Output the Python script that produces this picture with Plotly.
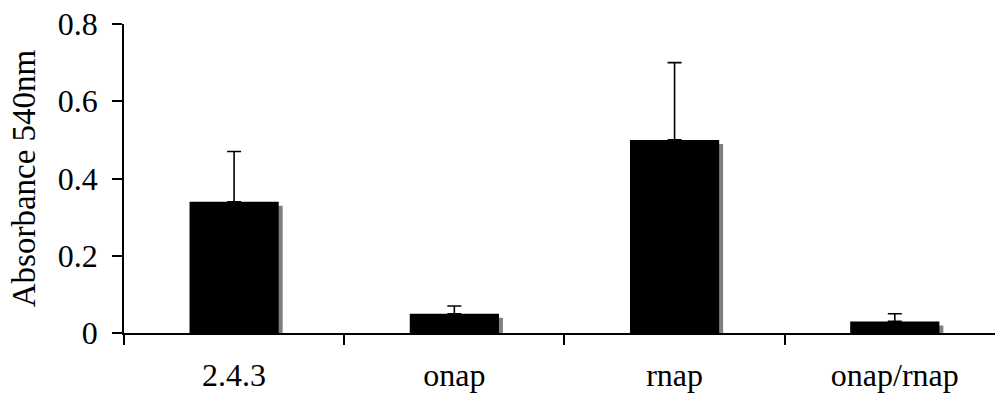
import plotly.graph_objects as go

# Absorbance at 540 nm per strain, with upper error bars
categories = ["2.4.3", "onap", "rnap", "onap/rnap"]
absorbance = [0.34, 0.05, 0.50, 0.03]
error_up = [0.13, 0.02, 0.20, 0.02]

y_tickvals = [0, 0.2, 0.4, 0.6, 0.8]
y_ticktext = ["0", "0.2", "0.4", "0.6", "0.8"]

x_pos = list(range(len(categories)))
bar_w = 0.405
shadow_dx = 0.018      # drop-shadow shift to the right (axis units)
shadow_dy = 0.0105     # drop-shadow shift downward (value units)

family = "Liberation Serif, Times New Roman, serif"
font = dict(family=family, size=32, color="black")

fig = go.Figure()

# grey drop shadow behind each bar
fig.add_trace(go.Bar(
    x=x_pos,
    y=[v - shadow_dy for v in absorbance],
    width=bar_w,
    offset=-bar_w / 2 + shadow_dx,
    marker=dict(color="#808080", line=dict(width=0)),
    hoverinfo="skip",
    showlegend=False,
))

# main black bars with upper error bars
fig.add_trace(go.Bar(
    x=x_pos,
    y=absorbance,
    width=bar_w,
    offset=-bar_w / 2,
    marker=dict(color="black", line=dict(width=0)),
    error_y=dict(type="data", symmetric=False, array=error_up,
                 arrayminus=[0] * len(error_up),
                 color="black", thickness=1.6, width=7),
    showlegend=False,
))

fig.update_layout(
    width=995, height=396,
    margin=dict(l=124, r=0, t=24, b=63),
    paper_bgcolor="white", plot_bgcolor="white",
    barmode="overlay",
    font=font,
    xaxis=dict(
        range=[-0.5, 3.455],
        tickmode="array", tickvals=x_pos, ticktext=categories,
        ticks="", showline=True, linecolor="black", linewidth=1.5,
        showgrid=False, zeroline=False,
        ticklabelstandoff=13,
        minor=dict(tickmode="array", tickvals=[-0.5, 0.5, 1.5, 2.5],
                   ticks="outside", ticklen=10, tickwidth=1.5, tickcolor="black",
                   showgrid=False),
    ),
    yaxis=dict(
        range=[0, 0.8],
        tickmode="array", tickvals=y_tickvals, ticktext=y_ticktext,
        ticks="outside", ticklen=10, tickwidth=1.5, tickcolor="black",
        showline=True, linecolor="black", linewidth=1.5,
        showgrid=False, zeroline=False,
        ticklabelstandoff=8,
        title=dict(text="Absorbance 540nm",
                   font=dict(family=family, size=33, color="black"),
                   standoff=12),
    ),
)

fig.write_html("out.html")
